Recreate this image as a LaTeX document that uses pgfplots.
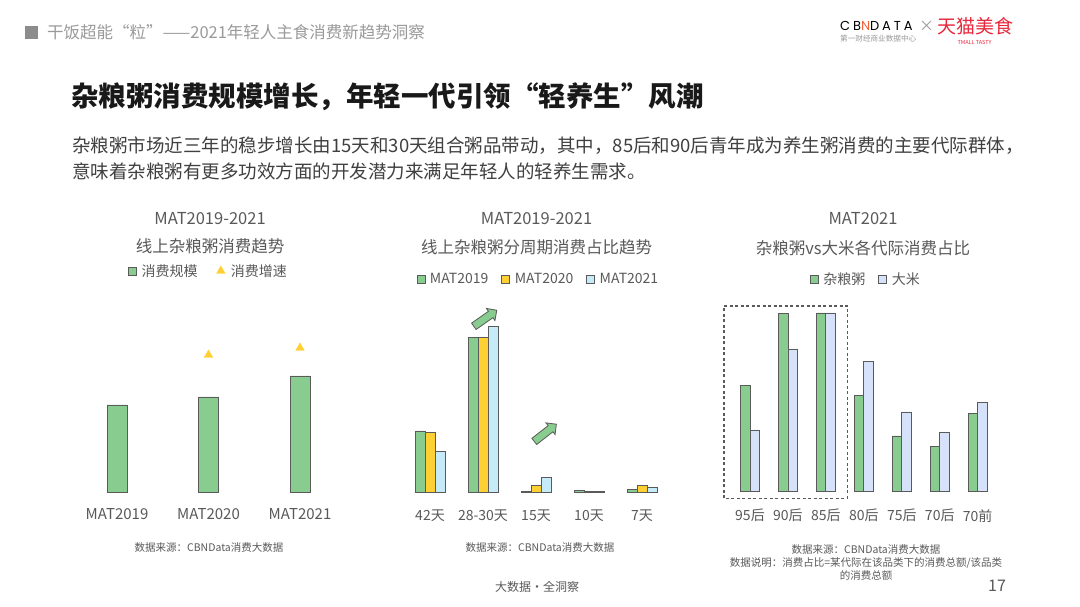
\documentclass[border=0pt]{standalone}
\usepackage{fontspec}
\setmainfont{Noto Sans CJK SC}
\newfontfamily\pop{Poppins}[LetterSpace=22]
\usepackage{pgfplots}
\pgfplotsset{compat=1.18}
\usetikzlibrary{shapes.arrows}
\definecolor{cgreen}{HTML}{88CC90}
\definecolor{cyellow}{HTML}{FFD034}
\definecolor{cblue}{HTML}{C5EAF8}
\definecolor{clav}{HTML}{D6E2FA}
\definecolor{cedge}{HTML}{5A5A5A}
\definecolor{cgray}{HTML}{595959}
\definecolor{hgray}{HTML}{9A9A9A}
\definecolor{tmred}{HTML}{E8283C}
\newcommand\fs[1]{\fontsize{#1pt}{#1pt}\selectfont}
\pgfplotsset{
  sq/.style={legend image code/.code={\draw[##1,line width=0.8pt] (0pt,-4pt) rectangle (8pt,4pt); \path[draw=none,fill=none] (0pt,0pt) -- (11pt,0pt);}},
  slide/.style={scale only axis, clip=false, ymin=0, ymax=200, height=200pt,
    axis line style={draw=none}, ytick=\empty, xtick=data, xtick style={draw=none},
    major tick length=0pt,
    xticklabel style={font=\fs{14}, text=cgray},
    legend style={draw=none, fill=none, legend columns=-1, font=\fs{14}, text=cgray,
      /tikz/every even column/.append style={column sep=11pt}},
    legend cell align=left},
}
\begin{document}
\begin{tikzpicture}
\fill[white] (0,0) rectangle (1080pt,607pt);
\begin{scope}[x=1pt,y=-1pt,yshift=607pt]
  % header
  \fill[black!45] (25,26) rectangle (38,39);
  \node[anchor=west, inner sep=0, text=hgray, font=\fs{16.5}] at (47,32.5) {干饭超能“粒”——2021年轻人主食消费新趋势洞察};
  % logo
  \node[anchor=west, inner sep=0, font=\pop\fs{13}] at (840,25.5) {CB\textcolor[HTML]{F0643C}{N}DATA};
  \node[anchor=west, inner sep=0, font=\fs{7.6}, text=hgray] at (840,39) {第一财经商业数据中心};
  \node[inner sep=0, font=\fs{15}, text=hgray] at (926.5,26.5) {×};
  \node[anchor=west, inner sep=0, font=\fs{19}, text=tmred] at (937,26) {天猫美食};
  \node[inner sep=0, font=\fs{5.5}, text=tmred] at (974.5,42) {TMALL TASTY};
  % title
  \node[anchor=west, inner sep=0, font=\bfseries\fs{27.5}, text=black!90] at (71,97) {杂粮粥消费规模增长，年轻一代引领“轻养生”风潮};
  \node[anchor=west, inner sep=0, font=\fs{18.5}, text=black!75] at (72,146) {杂粮粥市场近三年的稳步增长由15天和30天组合粥品带动，其中，85后和90后青年成为养生粥消费的主要代际群体，};
  \node[anchor=west, inner sep=0, font=\fs{18.5}, text=black!75] at (72,171) {意味着杂粮粥有更多功效方面的开发潜力来满足年轻人的轻养生需求。};
  % chart titles
  \node[inner sep=0, font=\fs{16.5}, text=cgray] at (210,219) {MAT2019-2021};
  \node[inner sep=0, font=\fs{16.5}, text=cgray] at (210,246.5) {线上杂粮粥消费趋势};
  \node[inner sep=0, font=\fs{16.5}, text=cgray] at (536.5,219) {MAT2019-2021};
  \node[inner sep=0, font=\fs{16.5}, text=cgray] at (536.5,247.5) {线上杂粮粥分周期消费占比趋势};
  \node[inner sep=0, font=\fs{16.5}, text=cgray] at (863,218.5) {MAT2021};
  \node[inner sep=0, font=\fs{16.5}, text=cgray] at (863,248) {杂粮粥vs大米各代际消费占比};
  % footers
  \node[inner sep=0, font=\fs{10.5}, text=cgray] at (209,548) {数据来源：CBNData消费大数据};
  \node[inner sep=0, font=\fs{10.5}, text=cgray] at (540,548) {数据来源：CBNData消费大数据};
  \node[inner sep=0, font=\fs{10.5}, text=cgray] at (866,550) {数据来源：CBNData消费大数据};
  \node[inner sep=0, font=\fs{10.5}, text=cgray] at (866,563) {数据说明：消费占比=某代际在该品类下的消费总额/该品类};
  \node[inner sep=0, font=\fs{10.5}, text=cgray] at (866,575.5) {的消费总额};
  \node[inner sep=0, font=\fs{12}, text=cgray] at (537,587) {大数据·全洞察};
  \node[inner sep=0, font=\fs{16}, text=cgray] at (997,586) {17};
\end{scope}

% chart 1
\begin{axis}[slide, at={(71.25pt,115pt)}, anchor=south west, width=274.5pt,
  xmin=-0.5, xmax=2.5,
  xticklabels={MAT2019,MAT2020,MAT2021},
  xticklabel style={yshift=-13pt, font=\fs{15}},
  legend style={at={(0.5,1.105)}, anchor=center,
    /tikz/every even column/.append style={column sep=17pt}}]
\addplot[ybar, bar shift=0pt, bar width=20pt, fill=cgreen, draw=cedge, line width=0.8pt, sq]
  coordinates {(0,87) (1,95) (2,116)};
\addlegendentry{消费规模}
\addplot[only marks, mark=triangle*, mark size=5pt, color=cyellow,
  legend image code/.code={\draw[mark=triangle*, mark size=5pt, color=cyellow] plot coordinates {(4pt,0pt)}; \path[draw=none,fill=none] (0pt,0pt) -- (12pt,0pt);}]
  coordinates {(1,137) (2,144)};
\addlegendentry{消费增速}
\end{axis}

% chart 2
\begin{axis}[slide, at={(403.5pt,114.7pt)}, anchor=south west, width=265pt,
  xmin=-0.5, xmax=4.5, ybar=0pt, bar width=10pt,
  xticklabels={42天,28-30天,15天,10天,7天},
  xticklabel style={yshift=-14pt},
  legend style={at={(0.509,1.0665)}, anchor=center}]
\addplot[fill=cgreen, draw=cedge, line width=0.8pt, sq]
  coordinates {(0,61.3) (1,155) (2,0.5) (3,1.5) (4,3)};
\addlegendentry{MAT2019}
\addplot[fill=cyellow, draw=cedge, line width=0.8pt, sq]
  coordinates {(0,60) (1,155) (2,6.6) (3,0.5) (4,6.6)};
\addlegendentry{MAT2020}
\addplot[fill=cblue, draw=cedge, line width=0.8pt, sq]
  coordinates {(0,40.6) (1,166) (2,14.6) (3,0.4) (4,5.3)};
\addlegendentry{MAT2021}
\node[single arrow, fill=cgreen, draw=cedge, line width=0.8pt, rotate=35, minimum height=28pt,
  inner sep=3.5pt, single arrow head extend=3.5pt] at (axis cs:1.013,172.9) {};
\node[single arrow, fill=cgreen, draw=cedge, line width=0.8pt, rotate=38, minimum height=28pt,
  inner sep=3.5pt, single arrow head extend=3.5pt] at (axis cs:2.147,58.3) {};
\end{axis}

% chart 3
\begin{axis}[slide, at={(731pt,115.3pt)}, anchor=south west, width=265.7pt,
  xmin=-0.5, xmax=6.5, ybar=0pt, bar width=9.3pt,
  xticklabels={95后,90后,85后,80后,75后,70后,70前},
  xticklabel style={yshift=-14pt},
  legend style={at={(0.508,1.0635)}, anchor=center}]
\addplot[fill=cgreen, draw=cedge, line width=0.8pt, sq]
  coordinates {(0,106) (1,178) (2,178.7) (3,96) (4,55.7) (5,45.4) (6,78.4)};
\addlegendentry{杂粮粥}
\addplot[fill=clav, draw=cedge, line width=0.8pt, sq]
  coordinates {(0,61.7) (1,142.7) (2,178.7) (3,130) (4,79.7) (5,59.4) (6,89.4)};
\addlegendentry{大米}
\draw[cedge, line width=1.1pt, dash pattern=on 3pt off 2.5pt] (axis cs:-0.685,-6.6) rectangle (axis cs:2.574,185.7);
\end{axis}
\pgfresetboundingbox
\path[use as bounding box] (0,0) rectangle (1080pt,607pt);
\end{tikzpicture}
\end{document}
